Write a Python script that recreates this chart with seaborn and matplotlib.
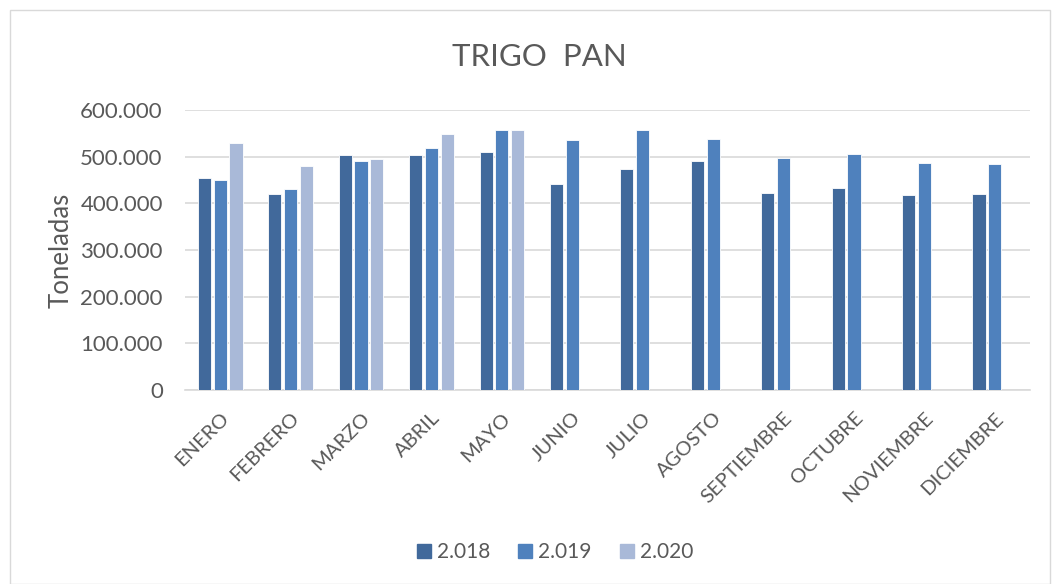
import numpy as np
import pandas as pd
import matplotlib
matplotlib.use("Agg")
import matplotlib.pyplot as plt
from matplotlib.patches import Rectangle
from matplotlib.ticker import FuncFormatter
import seaborn as sns

# ----------------------------------------------
# Data (toneladas)
# ----------------------------------------------
MESES = ["ENERO", "FEBRERO", "MARZO", "ABRIL", "MAYO", "JUNIO", "JULIO",
         "AGOSTO", "SEPTIEMBRE", "OCTUBRE", "NOVIEMBRE", "DICIEMBRE"]
ANIOS = ["2.018", "2.019", "2.020"]

v2018 = [454000, 421000, 504000, 504000, 509000, 441000, 473000,
         490000, 423000, 432000, 418000, 421000]
v2019 = [449000, 430000, 490000, 519000, 558000, 536000, 558000,
         538000, 498000, 506000, 486000, 484000]
v2020 = [530000, 479000, 495000, 549000, 557000, np.nan, np.nan,
         np.nan, np.nan, np.nan, np.nan, np.nan]

COLORS = ["#41699B", "#4F81BD", "#A9B9D8"]
GREY = "#595959"

df = pd.DataFrame({
    "mes": MESES * 3,
    "anio": [a for a in ANIOS for _ in MESES],
    "valor": v2018 + v2019 + v2020,
})

# ----------------------------------------------
# Plot
# ----------------------------------------------
sns.set_style("white")
plt.rcParams["font.family"] = ["Lato", "DejaVu Sans"]

W, H = 1059, 584
fig = plt.figure(figsize=(W / 100, H / 100), dpi=100)
ax = fig.add_axes([185 / W, 1 - 390 / H, 845 / W, 280 / H])

sns.barplot(data=df, x="mes", y="valor", hue="anio", order=MESES,
            hue_order=ANIOS, palette=COLORS, saturation=1, width=0.673,
            gap=0.17, edgecolor="white", linewidth=0.6, errorbar=None,
            legend=False, ax=ax, zorder=3)

ax.set_ylim(0, 600000)
ax.set_yticks(np.arange(0, 600001, 100000))
ax.yaxis.set_major_formatter(
    FuncFormatter(lambda v, _: f"{int(v):,}".replace(",", ".")))
ax.set_xlim(-0.5, len(MESES) - 0.5)

ax.grid(axis="y", color="#D9D9D9", linewidth=1.2, zorder=0)
for s in ["top", "right", "left"]:
    ax.spines[s].set_visible(False)
ax.spines["bottom"].set_color("#D9D9D9")
ax.spines["bottom"].set_linewidth(1.2)

ax.tick_params(axis="both", length=0, colors=GREY)
ax.tick_params(axis="y", pad=16, labelsize=16)
ax.tick_params(axis="x", pad=14, labelsize=14.5)
plt.setp(ax.get_xticklabels(), rotation=45, ha="right",
         rotation_mode="anchor")
ax.set_xlabel("")
ax.set_ylabel("")

fig.text(61 / W, 1 - 250 / H, "Toneladas", rotation=90, ha="center",
         va="center", fontsize=18.5, color=GREY)
fig.text(539 / W, 1 - 66 / H, "TRIGO  PAN", ha="center", va="baseline",
         fontsize=22.5, color=GREY)

# legend
handles = [Rectangle((0, 0), 1, 1, color=c) for c in COLORS]
fig.legend(handles, ANIOS, loc="center", bbox_to_anchor=(555 / W, 1 - 552 / H),
           ncol=3, frameon=False, fontsize=15, labelcolor=GREY,
           handlelength=0.67, handleheight=0.67, handletextpad=0.3,
           columnspacing=1.35)

# chart border
fig.patches.append(Rectangle((10 / W, 0), 1040 / W, 1 - 10 / H,
                             transform=fig.transFigure, fill=False,
                             edgecolor="#D9D9D9", linewidth=1))

fig.savefig("out.png", dpi=100)
